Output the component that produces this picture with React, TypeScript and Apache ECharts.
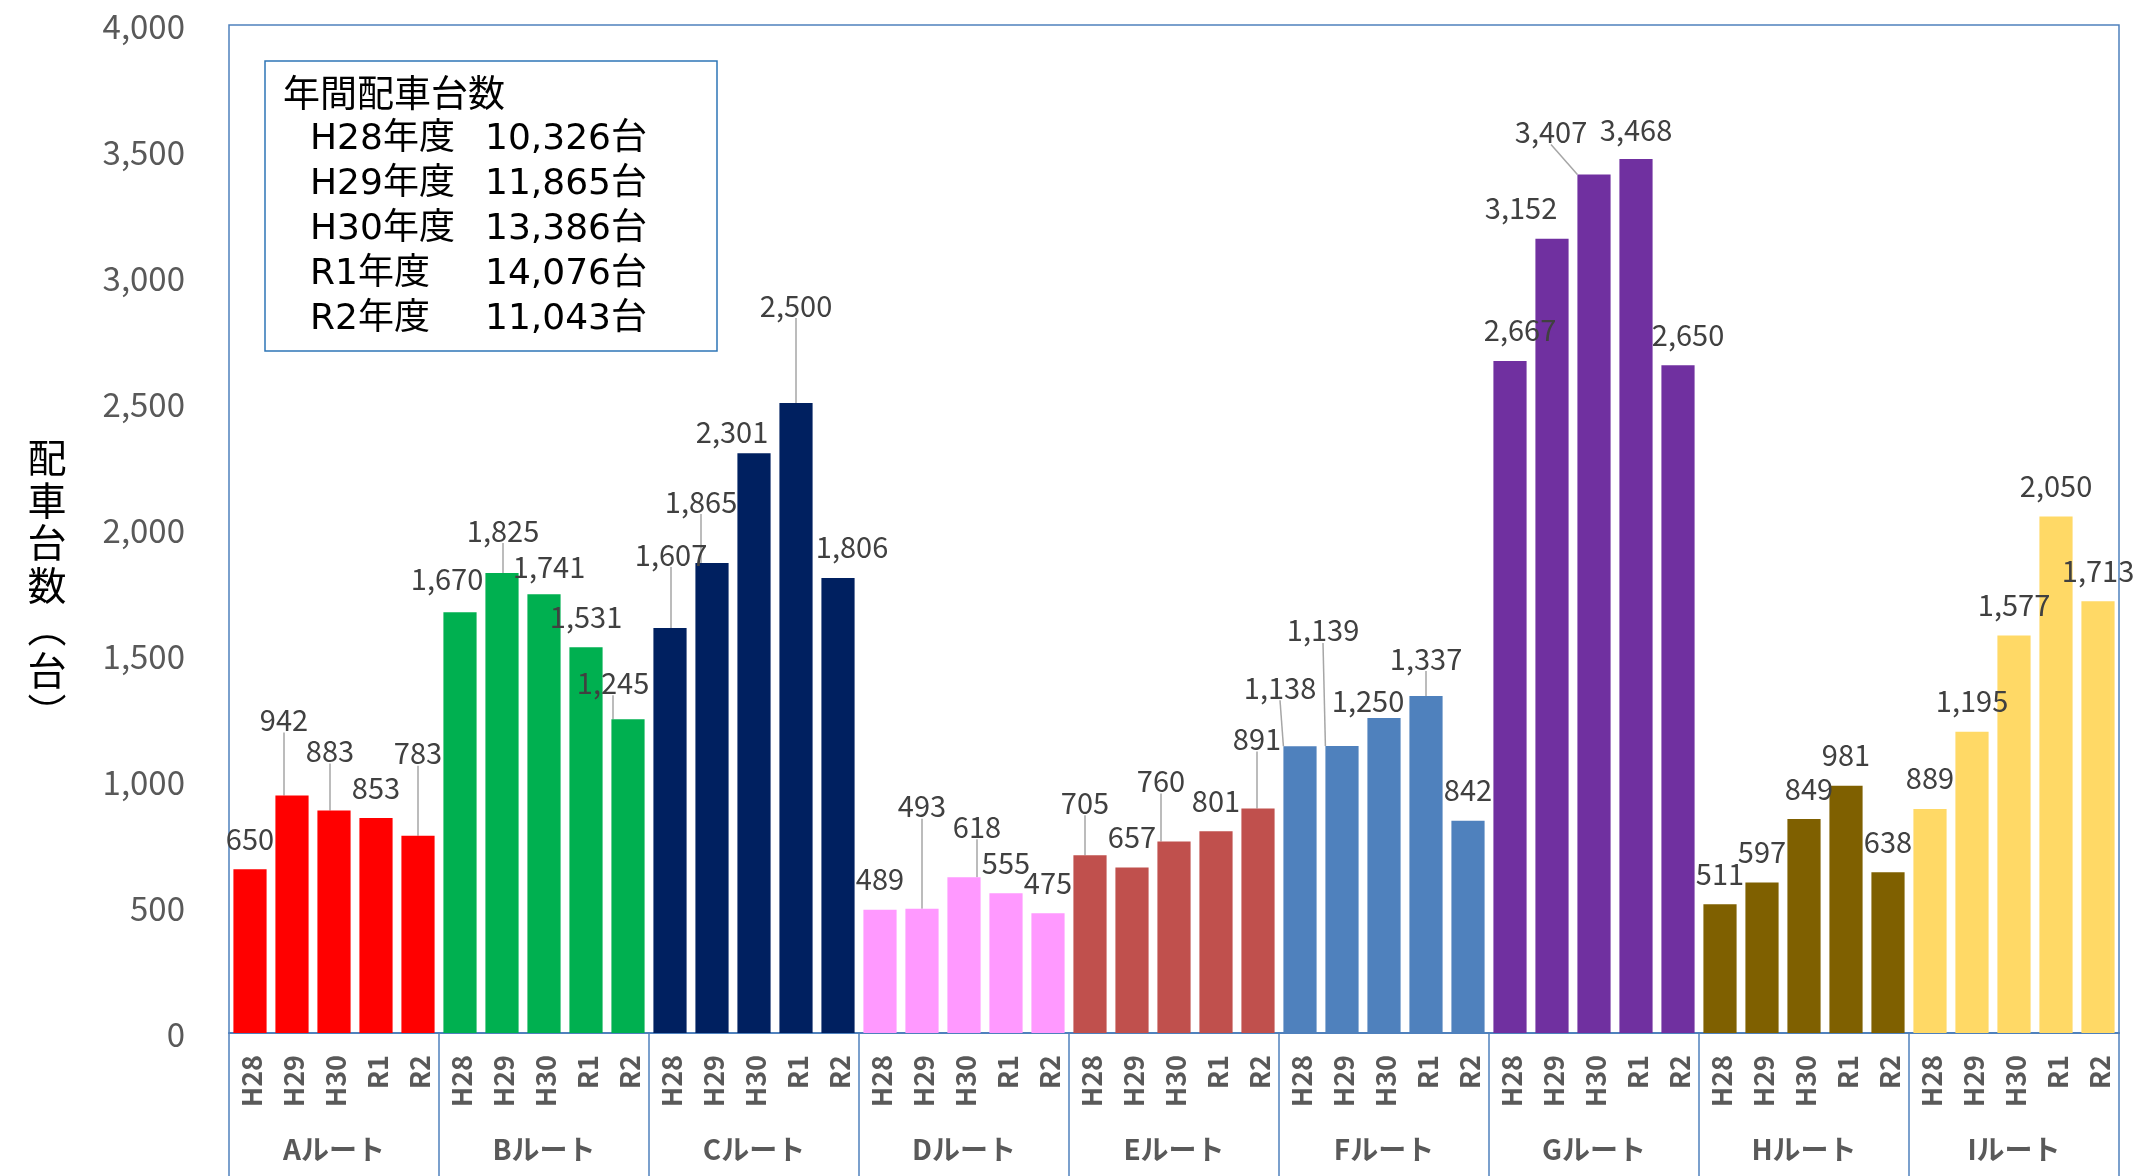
import React, { useEffect, useRef } from "react";
import * as echarts from "echarts";

// ---- data ----
const years = ["H28", "H29", "H30", "R1", "R2"];
const routeNames = ["Aルート", "Bルート", "Cルート", "Dルート", "Eルート", "Fルート", "Gルート", "Hルート", "Iルート"];
const routeA = [650, 942, 883, 853, 783];
const routeB = [1670, 1825, 1741, 1531, 1245];
const routeC = [1607, 1865, 2301, 2500, 1806];
const routeD = [489, 493, 618, 555, 475];
const routeE = [705, 657, 760, 801, 891];
const routeF = [1138, 1139, 1250, 1337, 842];
const routeG = [2667, 3152, 3407, 3468, 2650];
const routeH = [511, 597, 849, 981, 638];
const routeI = [889, 1195, 1577, 2050, 1713];
const routeValues = [routeA, routeB, routeC, routeD, routeE, routeF, routeG, routeH, routeI];
const yearTotals = [10326, 11865, 13386, 14076, 11043];
const insetTitle = "年間配車台数";
const yAxisTitleChars = ["配", "車", "台", "数", "︵", "台", "︶"];
const yMin = 0;
const yMax = 4000;
const yInterval = 500;

// ---- styles ----
const routeColors = ["#FF0000", "#00B050", "#002060", "#FF99FF", "#C0504D", "#4F81BD", "#7030A0", "#7F6000", "#FFD966"];
// label nudges (px) per bar, Excel-like manual placement
const labelNudges: number[][] = [
  [0, 0], [-8, -45], [-4, -29], [0, 0], [0, -52],
  [-13, -3], [1, -12], [5, 3], [0, 0], [-15, -6],
  [1, -43], [-11, -31], [-22, 9], [0, -67], [14, 0],
  [0, 0], [0, -72], [13, -20], [0, 0], [0, 0],
  [-5, -22], [0, 0], [-13, -30], [0, 0], [-1, -39],
  [-20, -28], [-19, -85], [-16, 13], [0, -7], [0, 0],
  [10, 0], [-31, 0], [-43, -12], [0, 1], [10, 0],
  [0, 0], [0, 0], [5, 0], [0, 0], [0, 0],
  [0, 0], [0, 0], [0, 0], [0, 0], [0, 0],
];
const leaderIdx = [1, 2, 4, 6, 9, 10, 11, 13, 16, 17, 20, 22, 24, 25, 26, 28, 32];

const FONT = "'Noto Sans CJK JP', 'Noto Sans', sans-serif";
const INSET_FONT = "'DejaVu Sans', 'Noto Sans CJK JP', sans-serif";
const BLUE = "#4F81BD";

export default function App() {
  const ref = useRef<HTMLDivElement>(null);
  useEffect(() => {
    if (!ref.current) return;
    const chart = echarts.init(ref.current, undefined, { renderer: "svg" });

    const categories: string[] = [];
    const data: any[] = [];
    routeValues.forEach((vals, r) => {
      vals.forEach((v, y) => {
        const idx = categories.length;
        categories.push(years[y]);
        data.push({
          value: v,
          itemStyle: { color: routeColors[r] },
          labelLine: { show: leaderIdx.includes(idx) },
        });
      });
    });

    const insetLines: any[] = [
      {
        type: "text",
        left: 283,
        top: 72,
        style: { text: insetTitle, font: `37px ${FONT}`, fill: "#000" },
      },
    ];
    years.forEach((yr, i) => {
      insetLines.push({
        type: "text",
        left: 310,
        top: 118 + i * 45,
        style: { text: `${yr}年度`, font: `36px ${INSET_FONT}`, fill: "#000" },
      });
      insetLines.push({
        type: "text",
        left: 485,
        top: 118 + i * 45,
        style: { text: `${yearTotals[i].toLocaleString("en-US")}台`, font: `36px ${INSET_FONT}`, fill: "#000" },
      });
    });

    const titleChars = yAxisTitleChars.map((ch, i) => ({
      type: "text",
      x: 47,
      y: 455 + i * 42.5,
      style: {
        text: ch,
        font: `39px ${FONT}`,
        fill: "#000",
        align: "center",
        verticalAlign: "middle",
      },
    }));

    chart.setOption({
      animation: false,
      textStyle: { fontFamily: FONT },
      grid: {
        left: 229,
        right: 15,
        top: 25,
        bottom: 143,
        show: true,
        borderColor: BLUE,
        borderWidth: 1.5,
      },
      xAxis: [
        {
          type: "category",
          data: categories,
          position: "bottom",
          axisLine: { show: true, lineStyle: { color: BLUE, width: 2 } },
          axisTick: { show: false },
          axisLabel: {
            interval: 0,
            rotate: 90,
            margin: 22,
            fontSize: 27,
            fontWeight: "bold",
            color: "#595959",
          },
        },
        {
          type: "category",
          data: routeNames,
          position: "bottom",
          axisLine: { show: false },
          axisTick: { show: true, interval: 0, length: 145, lineStyle: { color: BLUE, width: 1.5 } },
          axisLabel: {
            interval: 0,
            margin: 101,
            fontSize: 28,
            fontWeight: "bold",
            color: "#595959",
          },
        },
      ],
      yAxis: {
        type: "value",
        min: yMin,
        max: yMax,
        interval: yInterval,
        axisLine: { show: false },
        axisTick: { show: false },
        splitLine: { show: false },
        axisLabel: {
          margin: 44,
          fontSize: 33,
          color: "#595959",
          formatter: (v: number) => v.toLocaleString("en-US"),
        },
      },
      series: [
        {
          type: "bar",
          xAxisIndex: 0,
          data,
          barCategoryGap: "21%",
          label: {
            show: true,
            position: "top",
            distance: 18,
            fontSize: 29,
            color: "#404040",
            formatter: (p: any) => Number(p.value).toLocaleString("en-US"),
          },
          labelLine: { show: false, lineStyle: { color: "#A6A6A6", width: 1.5 } },
          labelLayout: (p: any) => {
            const n = labelNudges[p.dataIndex] || [0, 0];
            return { dx: n[0], dy: n[1] };
          },
        },
      ],
      graphic: [
        ...titleChars,
        {
          type: "rect",
          shape: { x: 265, y: 61, width: 452, height: 290 },
          style: { fill: "#fff", stroke: "#2E75B6", lineWidth: 1.5 },
        },
        ...insetLines,
      ],
    });
    return () => chart.dispose();
  }, []);
  return <div ref={ref} style={{ position: "fixed", left: 0, top: 0, width: 2134, height: 1176 }} />;
}
